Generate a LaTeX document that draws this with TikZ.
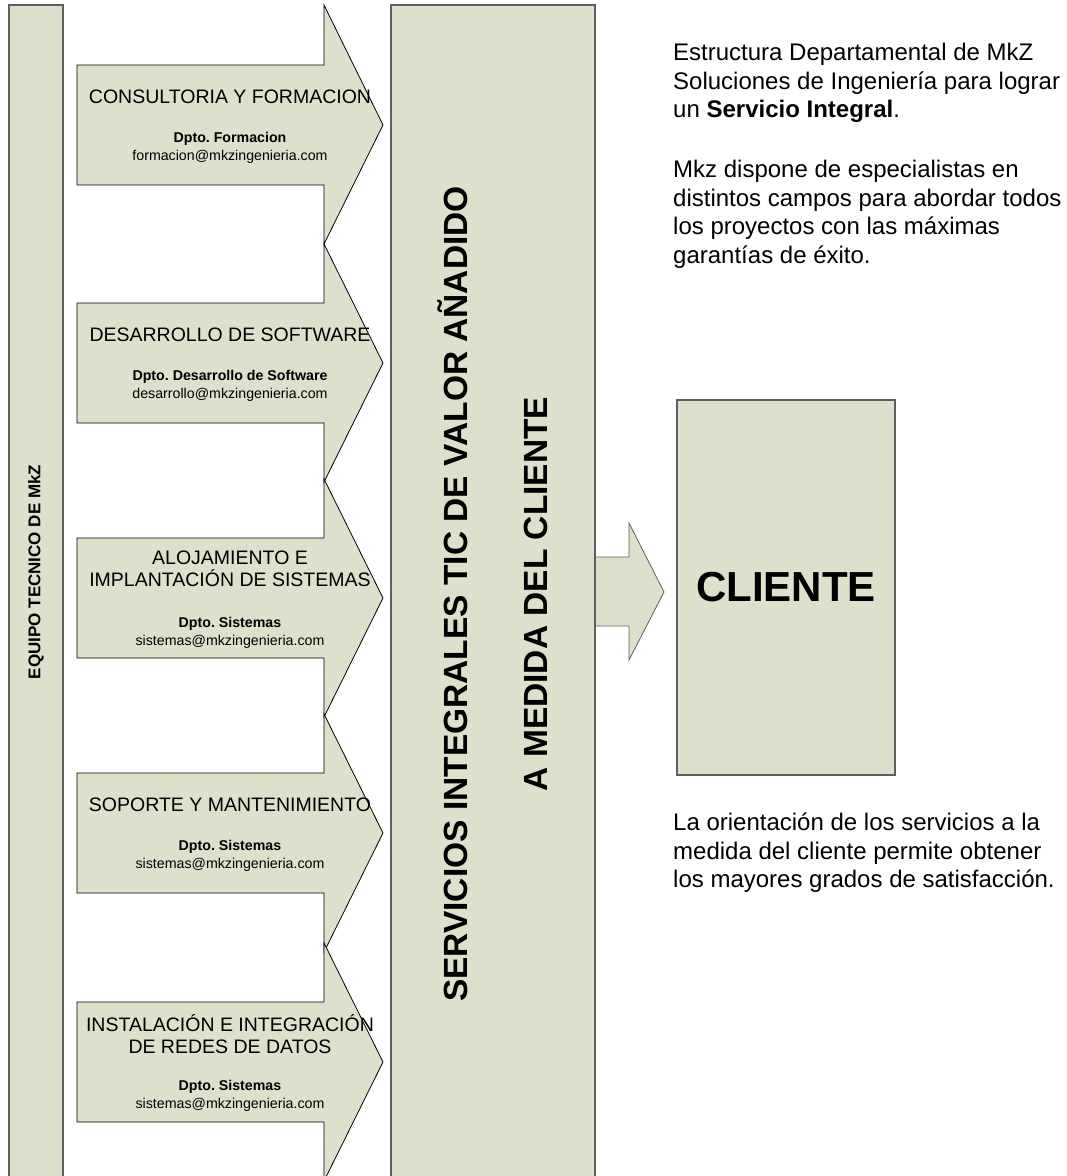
\documentclass[tikz,border=0pt]{standalone}
\usepackage{fontspec}
\setmainfont{Liberation Sans}
\frenchspacing
\definecolor{panel}{RGB}{221,224,203}
\definecolor{edge}{RGB}{95,95,95}

\begin{document}
\begin{tikzpicture}[x=1pt, y=-1pt,
  bar/.style={fill=panel, draw=edge, line width=1.2pt},
  dept/.style={fill=panel, draw=black, line width=0.8pt},
  area/.style={font=\fontsize{19.5}{22}\selectfont, align=center, inner sep=0pt},
  contact/.style={font=\fontsize{14.2}{17.5}\selectfont, align=center, inner sep=0pt},
  note/.style={font=\fontsize{24}{28.5}\selectfont, align=left, inner sep=0pt, anchor=north west}]
\clip (0,0) rectangle (1067,1176);
% left column
\draw[bar] (9,5) rectangle (63,1190);
\node[rotate=90, font=\fontsize{17}{20}\selectfont\bfseries] (equipo) at (36,572) {EQUIPO TECNICO DE MkZ};
% departments
\draw[dept] (77,65) -- (324,65) -- (324,5) -- (383,125) -- (324,244) -- (324,185) -- (77,185) -- cycle;
\node[area] (consultoria) at (230,97) {CONSULTORIA Y FORMACION};
\node[contact] (formacion) at (230,148) {\textbf{Dpto. Formacion}\\formacion@mkzingenieria.com};
\draw[dept] (77,303) -- (324,303) -- (324,244) -- (383,363) -- (324,482) -- (324,423) -- (77,423) -- cycle;
\node[area] (software) at (230,335) {DESARROLLO DE SOFTWARE};
\node[contact] (desarrollo) at (230,386) {\textbf{Dpto. Desarrollo de Software}\\desarrollo@mkzingenieria.com};
\draw[dept] (77,538) -- (324,538) -- (324,479) -- (383,598) -- (324,717) -- (324,658) -- (77,658) -- cycle;
\node[area] (alojamiento) at (230,569) {ALOJAMIENTO E\\IMPLANTACIÓN DE SISTEMAS};
\node[contact] (sistemasA) at (230,633) {\textbf{Dpto. Sistemas}\\sistemas@mkzingenieria.com};
\draw[dept] (77,773) -- (324,773) -- (324,714) -- (383,833) -- (324,952) -- (324,893) -- (77,893) -- cycle;
\node[area] (soporte) at (230,805) {SOPORTE Y MANTENIMIENTO};
\node[contact] (sistemasB) at (230,856) {\textbf{Dpto. Sistemas}\\sistemas@mkzingenieria.com};
\draw[dept] (77,1002) -- (324,1002) -- (324,943) -- (383,1062) -- (324,1181) -- (324,1122) -- (77,1122) -- cycle;
\node[area] (redes) at (230,1034) {INSTALACIÓN E INTEGRACIÓN\\DE REDES DE DATOS};
\node[contact] (sistemasC) at (230,1096) {\textbf{Dpto. Sistemas}\\sistemas@mkzingenieria.com};
% services column and output arrow
\draw[dept, draw=edge] (560,557) -- (629,557) -- (629,523) -- (664,592) -- (629,660) -- (629,626) -- (560,626) -- cycle;
\draw[bar] (391,5) rectangle (595,1190);
\node[rotate=90, align=center, font=\fontsize{33.5}{40}\selectfont\bfseries] (servicios) at (493,594)
  {SERVICIOS INTEGRALES TIC DE VALOR AÑADIDO\\[40pt]A MEDIDA DEL CLIENTE};
% client
\node[bar, minimum width=218, minimum height=375, font=\fontsize{42}{48}\selectfont\bfseries] (cliente) at (786,587.5) {CLIENTE};
% notes
\node[note] (intro) at (673,43) {Estructura Departamental de MkZ\\Soluciones de Ingeniería para lograr\\un \textbf{Servicio Integral}.};
\node[note] (especialistas) at (673,160) {Mkz dispone de especialistas en\\distintos campos para abordar todos\\los proyectos con las máximas\\garantías de éxito.};
\node[note] (orientacion) at (673,813) {La orientación de los servicios a la\\medida del cliente permite obtener\\los mayores grados de satisfacción.};
\end{tikzpicture}
\end{document}
